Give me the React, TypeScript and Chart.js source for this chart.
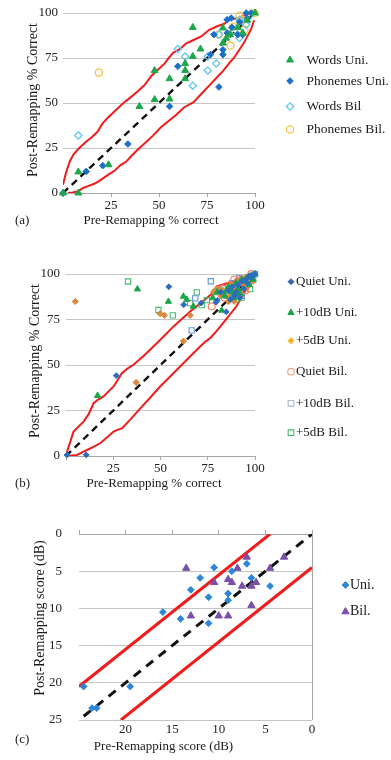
import React, { useEffect, useRef } from 'react';
import { Chart, registerables } from 'chart.js';

Chart.register(...registerables);

type Pt = [number, number];
const SERIF = "'Liberation Serif', 'Times New Roman', Times, serif";

// ---------------- Panel (a) ----------------
const aNames = ['Words Uni.', 'Phonemes Uni.', 'Words Bil', 'Phonemes Bil.'];
const aWordsUni: Pt[] = [
  [0, 0], [8, 0], [8, 11.7], [23.7, 15.7], [39.8, 48.1], [47.7, 51.9], [47.7, 68], [55.5, 52.2],
  [55.5, 63.5], [63.6, 63.5], [63.6, 68.1], [63.6, 71.9], [67.6, 75.9], [67.6, 92], [71.6, 80],
  [83.3, 91.7], [83.3, 83.3], [85, 86], [87, 88], [93.6, 88.9], [91, 92], [96, 96], [100, 100],
];
const aPhonemesUni: Pt[] = [
  [0, 0], [12.1, 12], [20.7, 15.2], [33.8, 27.2], [55.5, 48.1], [59.8, 70.4], [76.8, 76.9],
  [78.6, 88], [81.2, 58.9], [83.3, 79.6], [83.3, 76.9], [85.5, 88.9], [85.5, 96.3], [87.6, 97.2],
  [91.1, 88], [93.6, 88], [95.4, 100], [98, 100], [88, 92], [92, 95], [96, 97],
];
const aWordsBil: Pt[] = [
  [8, 31.9], [59.8, 80], [63.6, 75.9], [67.6, 59.6], [75.4, 68.1], [75.4, 75.9], [79.8, 71.9],
  [81.2, 88], [91.9, 86.1], [91.9, 96.3], [95.4, 93.5], [89, 90], [97, 98],
];
const aPhonemesBil: Pt[] = [
  [18.7, 67], [81.2, 88], [87.2, 81.9], [88.5, 92.2], [91.9, 93.5], [91.9, 98.5], [94.5, 90.7],
  [95.4, 94.4], [97, 99], [99.7, 100], [93, 96],
];
const aUpper: Pt[] = [
  [0, 4.6], [1.5, 11], [3.5, 17.5], [5.5, 21.5], [8.5, 25], [12, 28.5], [15, 31], [18, 34],
  [20.5, 38.5], [23.5, 42], [27, 45.5], [31.5, 50], [35, 53], [39, 56.5], [42.5, 60], [46, 65],
  [50, 69], [53, 72], [55, 75], [57.5, 78], [61, 80], [64, 83], [68, 85], [72, 87], [76, 90.5],
  [80, 92.5], [84, 94], [87, 96.5], [91, 97], [94, 98.5], [97, 99.5], [100, 100],
];
const aLower: Pt[] = [
  [2.5, 0], [5, 0.3], [8, 1], [10.5, 2.8], [13, 3.8], [16, 5], [18.5, 6.5], [21, 8.3], [24, 10.5],
  [27, 12.5], [30, 15.5], [33, 17.5], [36.5, 21.5], [39.8, 25], [43.5, 28.5], [47, 32], [51, 36.5],
  [55, 40], [59, 43.5], [63, 47.5], [68, 50.5], [72, 55], [76, 59.5], [80, 64], [83.5, 68],
  [86.5, 72], [89, 75], [91.5, 79], [94, 83], [96, 87], [98, 91], [99.5, 96],
];
const pctIdentity: Pt[] = [[0, 0], [100, 100]];
const pctTicks = [0, 25, 50, 75, 100];

// ---------------- Panel (b) ----------------
const bNames = ['Quiet Uni.', '+10dB Uni.', '+5dB Uni.', 'Quiet Bil.', '+10dB Bil.', '+5dB Bil.'];
const bQuietUni: Pt[] = [
  [0.5, 0.6], [10.7, 0.6], [26.6, 44.2], [54.4, 93], [62.3, 83.1], [71.5, 84], [79.4, 84.5],
  [80, 85.5], [84.8, 79.2], [86, 91], [88, 93], [89, 88], [90, 90], [91, 94], [92, 87], [93, 96],
  [94, 92], [95, 97], [96, 95], [97, 99], [98, 98], [99, 99], [100, 100], [87, 86], [82, 90],
];
const b10dBUni: Pt[] = [
  [16.7, 33.2], [37.8, 91.7], [54.2, 84.9], [62.1, 87.7], [63.9, 86], [67.4, 82.2], [77.6, 86.8],
  [82.4, 80], [84, 88], [86, 93], [88, 90], [89, 87], [90, 95], [91, 92], [92, 89], [93, 97],
  [95, 96], [96, 98], [97, 94], [98, 99], [99, 97], [100, 100], [85, 91], [80, 90],
];
const b5dBUni: Pt[] = [
  [4.9, 84.9], [37.1, 40.4], [49.8, 78.2], [52.1, 77.3], [62.1, 63.1], [65.7, 77.3], [78, 90],
  [80, 92], [82, 88], [85.9, 84.9], [87, 94], [88, 89], [89, 85], [90, 92], [91.2, 89.5], [92, 96],
  [93, 91], [94, 95], [95, 98], [96, 93], [97, 97], [98, 99], [99, 96], [83, 91], [86, 87],
];
const bQuietBil: Pt[] = [
  [77.1, 82.2], [80, 88], [83, 92], [84, 87], [86, 90], [87, 94], [88, 91], [90, 88], [91, 96],
  [92, 93], [93, 97], [94, 95], [95, 91], [96, 98], [97, 96], [98, 100], [85, 89], [89, 97],
];
const b10dBBil: Pt[] = [
  [66.5, 69], [68.4, 86.6], [76.6, 96], [81, 91], [85, 88], [88, 95], [90, 93], [91.7, 97.7],
  [92, 90], [94, 96], [96, 98], [98, 99], [100, 100], [87, 92], [93, 88],
];
const b5dBBil: Pt[] = [
  [32.8, 95.9], [48.9, 80.2], [56.5, 77.3], [65.7, 84], [69.2, 89.9], [71.8, 82.9], [74.5, 85.6],
  [79, 90], [83, 92], [86, 88], [88, 91], [90, 86], [91, 89], [93, 87], [95, 94], [97.4, 91.7],
  [99, 97], [89, 94],
];
const bUpper: Pt[] = [
  [0, 0.6], [2, 7], [4, 13.4], [6.5, 16], [9.3, 18.9], [12, 23], [14.6, 29], [17, 31], [19.9, 32.7],
  [22.5, 35.5], [25.2, 38.2], [27.5, 42], [29.6, 45.5], [32.5, 48], [35.7, 50.1], [41, 55],
  [46.3, 60.2], [51.5, 65.5], [56.9, 71.2], [61, 75], [65.7, 79.4], [70, 83], [74.5, 86.8],
  [77, 89], [79.8, 93.2], [84, 94.5], [88.6, 96], [92, 97.5], [95.6, 98.7], [100, 100],
];
const bLower: Pt[] = [
  [0, 0], [5.8, 0.6], [8.5, 2], [11.1, 3.3], [14.5, 5], [18.1, 7], [21.5, 10], [25.2, 13.4],
  [27.5, 14.5], [29.6, 15.2], [34, 20], [39.3, 26.2], [44.5, 32], [49.8, 38.2], [55, 43.5],
  [60.4, 49.2], [65.5, 54.5], [71, 60.2], [74, 63], [76.5, 65], [80, 69], [85, 75.5], [90, 82],
  [94, 89], [97, 95], [99.5, 99.5],
];

// ---------------- Panel (c) ----------------
const cNames = ['Uni.', 'Bil.'];
const cUni: Pt[] = [
  [24.5, 20.5], [23.6, 23.4], [23.1, 23.4], [19.5, 20.5], [16, 10.5], [14.1, 11.4], [13, 7.5],
  [12, 5.9], [11.1, 8.5], [11.1, 12], [10.5, 4.5], [9, 8], [9, 8.9], [8.6, 5], [7, 4], [6.5, 5.9],
  [4.5, 7],
];
const cBil: Pt[] = [
  [13.5, 4.6], [13, 11], [10.5, 6.5], [10, 11], [9, 6.1], [9, 11], [8.6, 6.5], [8, 4.6], [7.5, 7],
  [7, 3.1], [6.5, 7], [6.5, 9.6], [6, 6.5], [4.5, 4.6], [3, 3.1],
];
const cUpper: Pt[] = [[25, 20.5], [4.5, 0]];
const cLower: Pt[] = [[20.5, 25], [0, 4.5]];
const cIdentity: Pt[] = [[24.5, 24.5], [0, 0]];
const dbTicks = [0, 5, 10, 15, 20, 25];

// ---------------- helpers ----------------
type Marker = { style: string; color: string; filled: boolean; r: number; lw?: number };

const aMarkers: Marker[] = [
  { style: 'triangle', color: '#1ea64c', filled: true, r: 4 },
  { style: 'rectRot', color: '#1c6fc8', filled: true, r: 3.3 },
  { style: 'rectRot', color: '#5ec8f2', filled: false, r: 3.6, lw: 1.3 },
  { style: 'circle', color: '#f6c445', filled: false, r: 3.6, lw: 1.3 },
];
const bMarkers: Marker[] = [
  { style: 'rectRot', color: '#2a6cc0', filled: true, r: 2.9 },
  { style: 'triangle', color: '#19a447', filled: true, r: 3.6 },
  { style: 'rectRot', color: '#d98940', filled: true, r: 3.1 },
  { style: 'circle', color: '#ef7b5c', filled: false, r: 3.4, lw: 1.1 },
  { style: 'rect', color: '#5f96dc', filled: false, r: 3.7, lw: 1.1 },
  { style: 'rect', color: '#47bb6c', filled: false, r: 3.7, lw: 1.1 },
];
const bLegendMarkers: Marker[] = [
  { style: 'rectRot', color: '#3a66a8', filled: true, r: 3 },
  { style: 'triangle', color: '#19a447', filled: true, r: 3.6 },
  { style: 'rectRot', color: '#f5b324', filled: true, r: 3 },
  { style: 'circle', color: '#f0a27e', filled: false, r: 3.3, lw: 1.1 },
  { style: 'rect', color: '#aab8d6', filled: false, r: 4, lw: 1.1 },
  { style: 'rect', color: '#47bb6c', filled: false, r: 4, lw: 1.1 },
];
const cMarkers: Marker[] = [
  { style: 'rectRot', color: '#2f86d6', filled: true, r: 3.4 },
  { style: 'triangle', color: '#7a4fa8', filled: true, r: 4.2 },
];

function drawMarker(ctx: CanvasRenderingContext2D, m: Marker, x: number, y: number) {
  const r = m.r;
  ctx.save();
  ctx.beginPath();
  if (m.style === 'triangle') {
    ctx.moveTo(x, y - r);
    ctx.lineTo(x + r * 0.866, y + r * 0.5);
    ctx.lineTo(x - r * 0.866, y + r * 0.5);
    ctx.closePath();
  } else if (m.style === 'rectRot') {
    ctx.moveTo(x - r, y);
    ctx.lineTo(x, y - r);
    ctx.lineTo(x + r, y);
    ctx.lineTo(x, y + r);
    ctx.closePath();
  } else if (m.style === 'rect') {
    const h = r * Math.SQRT1_2;
    ctx.rect(x - h, y - h, 2 * h, 2 * h);
  } else {
    ctx.arc(x, y, r, 0, Math.PI * 2);
  }
  if (m.filled) {
    ctx.fillStyle = m.color;
    ctx.fill();
  }
  ctx.strokeStyle = m.color;
  ctx.lineWidth = m.lw ?? 1;
  ctx.stroke();
  ctx.restore();
}

function legendPlugin(names: string[], markers: Marker[], ys: number[], markerX: number, textX: number, size: number) {
  return {
    id: 'sideLegend',
    afterDraw(chart: any) {
      const ctx: CanvasRenderingContext2D = chart.ctx;
      ctx.save();
      ctx.font = `${size}px ${SERIF}`;
      ctx.fillStyle = '#1a1a1a';
      ctx.textBaseline = 'middle';
      ctx.textAlign = 'left';
      names.forEach((n, i) => {
        drawMarker(ctx, markers[i], markerX, ys[i]);
        ctx.fillText(n, textX, ys[i]);
      });
      ctx.restore();
    },
  };
}

type TextSpec = { text: string; x: number; y: number; size: number; rot?: number; align?: CanvasTextAlign };
function textPlugin(texts: TextSpec[]) {
  return {
    id: 'axisTexts',
    afterDraw(chart: any) {
      const ctx: CanvasRenderingContext2D = chart.ctx;
      texts.forEach((t) => {
        ctx.save();
        ctx.font = `${t.size}px ${SERIF}`;
        ctx.fillStyle = '#1a1a1a';
        ctx.textBaseline = 'middle';
        ctx.textAlign = t.align ?? 'center';
        ctx.translate(t.x, t.y);
        if (t.rot) ctx.rotate(t.rot);
        ctx.fillText(t.text, 0, 0);
        ctx.restore();
      });
    },
  };
}

const toXY = (d: Pt[]) => d.map(([x, y]) => ({ x, y }));

function pointDS(label: string, data: Pt[], m: Marker) {
  return {
    label,
    data: toXY(data),
    showLine: false,
    pointStyle: m.style,
    pointRadius: m.r,
    pointHoverRadius: m.r,
    backgroundColor: m.filled ? m.color : 'rgba(0,0,0,0)',
    borderColor: m.color,
    pointBorderWidth: m.lw ?? 1,
    clip: false,
  };
}

function lineDS(label: string, data: Pt[], color: string, width: number, dash: number[] = []) {
  return {
    label,
    data: toXY(data),
    showLine: true,
    pointRadius: 0,
    pointHoverRadius: 0,
    borderColor: color,
    backgroundColor: color,
    borderWidth: width,
    borderDash: dash,
    fill: false,
    tension: 0,
  };
}

const setTicks = (arr: number[]) => (s: any) => {
  s.ticks = arr.map((v) => ({ value: v }));
};
const tickFont = { family: SERIF, size: 13 };

function pctScales(yWidth: number, yPad: number) {
  return {
    x: {
      type: 'linear',
      min: 0,
      max: 100,
      afterBuildTicks: setTicks(pctTicks),
      afterFit: (s: any) => { s.height = 20; },
      border: { display: true, color: '#a6a6a6', width: 1 },
      grid: { display: true, drawOnChartArea: false, drawTicks: true, tickLength: 4, color: '#a6a6a6' },
      ticks: { padding: 1, color: '#222', font: tickFont, maxRotation: 0, autoSkip: false,
        callback: (v: any) => (v === 0 ? '' : String(v)) },
    },
    y: {
      type: 'linear',
      min: 0,
      max: 100,
      afterBuildTicks: setTicks(pctTicks),
      afterFit: (s: any) => { s.width = yWidth; },
      border: { display: false },
      grid: { drawTicks: false, color: (c: any) => (c.tick && c.tick.value === 0 ? 'rgba(0,0,0,0)' : '#c4c4c4') },
      ticks: { padding: yPad, color: '#222', font: tickFont, autoSkip: false },
    },
  };
}

const baseOpts = {
  responsive: false,
  animation: false,
  events: [],
  plugins: { legend: { display: false }, tooltip: { enabled: false } },
};

function makeA(): any {
  return {
    type: 'scatter',
    data: {
      datasets: [
        pointDS(aNames[0], aWordsUni, aMarkers[0]),
        pointDS(aNames[1], aPhonemesUni, aMarkers[1]),
        pointDS(aNames[2], aWordsBil, aMarkers[2]),
        pointDS(aNames[3], aPhonemesBil, aMarkers[3]),
        lineDS('Identity', pctIdentity, '#111', 2.4, [7, 5]),
        lineDS('Upper', aUpper, '#f01c1c', 2),
        lineDS('Lower', aLower, '#f01c1c', 2),
      ],
    },
    options: {
      ...baseOpts,
      layout: { padding: { left: 0, right: 136, top: 13, bottom: 22 } },
      scales: pctScales(63, 5),
    },
    plugins: [
      legendPlugin(aNames, aMarkers, [60, 81, 106.5, 129.5], 290, 306.5, 13.5),
      textPlugin([
        { text: 'Post-Remapping % Correct', x: 33.5, y: 100, size: 14, rot: -Math.PI / 2 },
        { text: 'Pre-Remapping % correct', x: 151, y: 221, size: 13 },
        { text: '(a)', x: 15, y: 221, size: 13, align: 'left' },
      ]),
    ],
  };
}

function makeB(): any {
  return {
    type: 'scatter',
    data: {
      datasets: [
        pointDS(bNames[0], bQuietUni, bMarkers[0]),
        pointDS(bNames[1], b10dBUni, bMarkers[1]),
        pointDS(bNames[2], b5dBUni, bMarkers[2]),
        pointDS(bNames[3], bQuietBil, bMarkers[3]),
        pointDS(bNames[4], b10dBBil, bMarkers[4]),
        pointDS(bNames[5], b5dBBil, bMarkers[5]),
        lineDS('Identity', pctIdentity, '#111', 2.4, [7, 5]),
        lineDS('Upper', bUpper, '#f01c1c', 2),
        lineDS('Lower', bLower, '#f01c1c', 2),
      ],
    },
    options: {
      ...baseOpts,
      layout: { padding: { left: 0, right: 136, top: 39, bottom: 21 } },
      scales: pctScales(66, 6),
    },
    plugins: [
      legendPlugin(bNames, bLegendMarkers, [46.7, 77.7, 105.7, 136.7, 168.3, 197.7], 291, 296, 13),
      textPlugin([
        { text: 'Post-Remapping % Correct', x: 35, y: 126, size: 14, rot: -Math.PI / 2 },
        { text: 'Pre-Remapping % correct', x: 154, y: 248.5, size: 13 },
        { text: '(b)', x: 15, y: 248.5, size: 13, align: 'left' },
      ]),
    ],
  };
}

function makeC(): any {
  return {
    type: 'scatter',
    data: {
      datasets: [
        pointDS(cNames[0], cUni, cMarkers[0]),
        pointDS(cNames[1], cBil, cMarkers[1]),
        lineDS('Identity', cIdentity, '#111', 3, [9, 7]),
        lineDS('Upper', cUpper, '#f01c1c', 3),
        lineDS('Lower', cLower, '#f01c1c', 3),
      ],
    },
    options: {
      ...baseOpts,
      layout: { padding: { left: 0, right: 79, top: 32, bottom: 20 } },
      scales: {
        x: {
          type: 'linear',
          position: 'bottom',
          reverse: true,
          min: 0,
          max: 25,
          afterBuildTicks: setTicks(dbTicks),
          afterFit: (s: any) => { s.height = 20; },
          border: { display: false },
          grid: { drawTicks: false, color: (c: any) => (c.tick && c.tick.value === 0 ? '#a6a6a6' : 'rgba(0,0,0,0)') },
          ticks: { padding: 2, color: '#222', font: tickFont, maxRotation: 0, autoSkip: false,
            callback: (v: any) => (v === 25 ? '' : String(v)) },
        },
        xTop: {
          type: 'linear',
          position: 'top',
          reverse: true,
          min: 0,
          max: 25,
          afterBuildTicks: setTicks(dbTicks),
          afterFit: (s: any) => { s.height = 5; },
          border: { display: false },
          grid: { drawOnChartArea: false, drawTicks: true, tickLength: 4, color: '#a6a6a6' },
          ticks: { display: false },
        },
        y: {
          type: 'linear',
          reverse: true,
          min: 0,
          max: 25,
          afterBuildTicks: setTicks(dbTicks),
          afterFit: (s: any) => { s.width = 79; },
          border: { display: false },
          grid: { drawTicks: false, color: (c: any) => (c.tick && c.tick.value === 0 ? '#a6a6a6' : '#c4c4c4') },
          ticks: { padding: 17, color: '#222', font: tickFont, autoSkip: false },
        },
      },
    },
    plugins: [
      legendPlugin(cNames, cMarkers, [88, 114.7], 345.5, 350, 14),
      textPlugin([
        { text: 'Post-Remapping score (dB)', x: 40, y: 121, size: 14, rot: -Math.PI / 2 },
        { text: 'Pre-Remapping score (dB)', x: 163.5, y: 249.5, size: 13 },
        { text: '(c)', x: 15, y: 242.5, size: 13, align: 'left' },
      ]),
    ],
  };
}

function Panel({ top, height, make }: { top: number; height: number; make: () => any }) {
  const ref = useRef<HTMLCanvasElement>(null);
  useEffect(() => {
    const chart = new Chart(ref.current as HTMLCanvasElement, make());
    return () => chart.destroy();
  }, []);
  return (
    <canvas
      ref={ref}
      width={391}
      height={height}
      style={{ position: 'absolute', left: 0, top, width: 391, height, display: 'block' }}
    />
  );
}

export default function App() {
  return (
    <div style={{ position: 'absolute', left: 0, top: 0, width: 391, height: 760, background: '#fff', overflow: 'hidden' }}>
      <Panel top={0} height={235} make={makeA} />
      <Panel top={235} height={262} make={makeB} />
      <Panel top={497} height={263} make={makeC} />
    </div>
  );
}
